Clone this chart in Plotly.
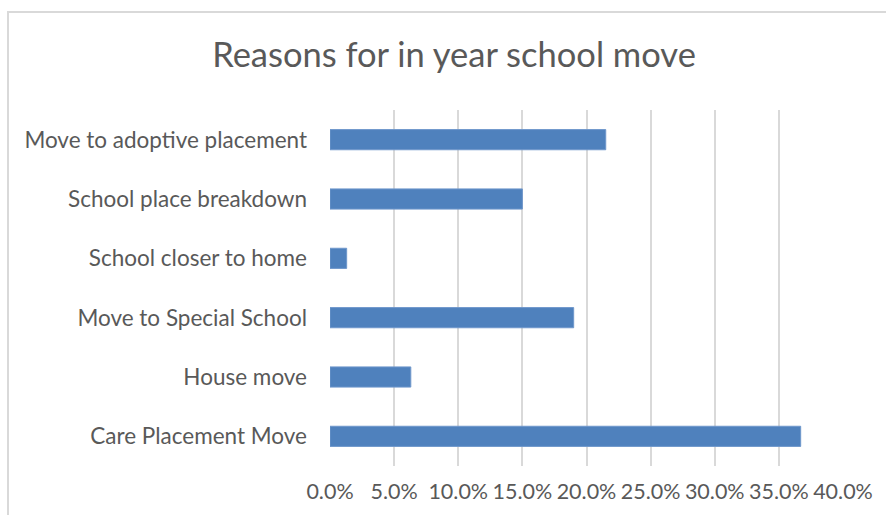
import plotly.graph_objects as go

# Reasons for in-year school moves (share of moves)
categories = [
    "Care Placement Move",
    "House move",
    "Move to Special School",
    "School closer to home",
    "School place breakdown",
    "Move to adoptive placement",
]
shares = [0.367, 0.063, 0.190, 0.013, 0.150, 0.215]
tick_values = [0.0, 0.05, 0.10, 0.15, 0.20, 0.25, 0.30, 0.35, 0.40]
tick_labels = ["0.0%", "5.0%", "10.0%", "15.0%", "20.0%", "25.0%", "30.0%", "35.0%", "40.0%"]

W, H = 886, 515
ML, MR, MT, MB = 330, 43, 110, 49
pw, ph = W - ML - MR, H - MT - MB

text_color = "#595959"
grid_color = "#d9d9d9"
font_family = "Lato"

fig = go.Figure(
    go.Bar(
        x=shares,
        y=categories,
        orientation="h",
        marker=dict(color="#4f81bd", line=dict(color="#6f97cb", width=1)),
        hoverinfo="x+y",
    )
)

fig.update_layout(
    width=W,
    height=H,
    margin=dict(l=ML, r=MR, t=MT, b=MB),
    paper_bgcolor="white",
    plot_bgcolor="white",
    bargap=0.66,
    showlegend=False,
    font=dict(family=font_family, color=text_color, size=22),
    title=dict(
        text="Reasons for in year school move",
        font=dict(family=font_family, size=34.5, color=text_color),
        x=454 / W,
        xanchor="center",
        xref="container",
        y=1 - 55 / H,
        yanchor="middle",
        yref="container",
    ),
    xaxis=dict(
        range=[0, 0.4],
        tickvals=tick_values,
        ticktext=tick_labels,
        showgrid=True,
        gridcolor=grid_color,
        gridwidth=2,
        zeroline=False,
        showline=False,
        ticks="",
        ticklabelstandoff=10,
        tickfont=dict(size=21.5, color=text_color),
        fixedrange=True,
    ),
    yaxis=dict(
        categoryorder="array",
        categoryarray=categories,
        showgrid=False,
        zeroline=False,
        showline=False,
        ticks="",
        ticklabelstandoff=22,
        tickfont=dict(size=22.5, color=text_color),
        fixedrange=True,
    ),
    shapes=[
        # chart-area border
        dict(
            type="rect",
            xref="paper",
            yref="paper",
            x0=(8 - ML) / pw,
            x1=(890 - ML) / pw,
            y0=(H - MB - 530) / ph,
            y1=(H - MB - 12) / ph,
            line=dict(color=grid_color, width=2),
            fillcolor="rgba(0,0,0,0)",
            layer="below",
        )
    ],
)

fig.write_html("out.html")
